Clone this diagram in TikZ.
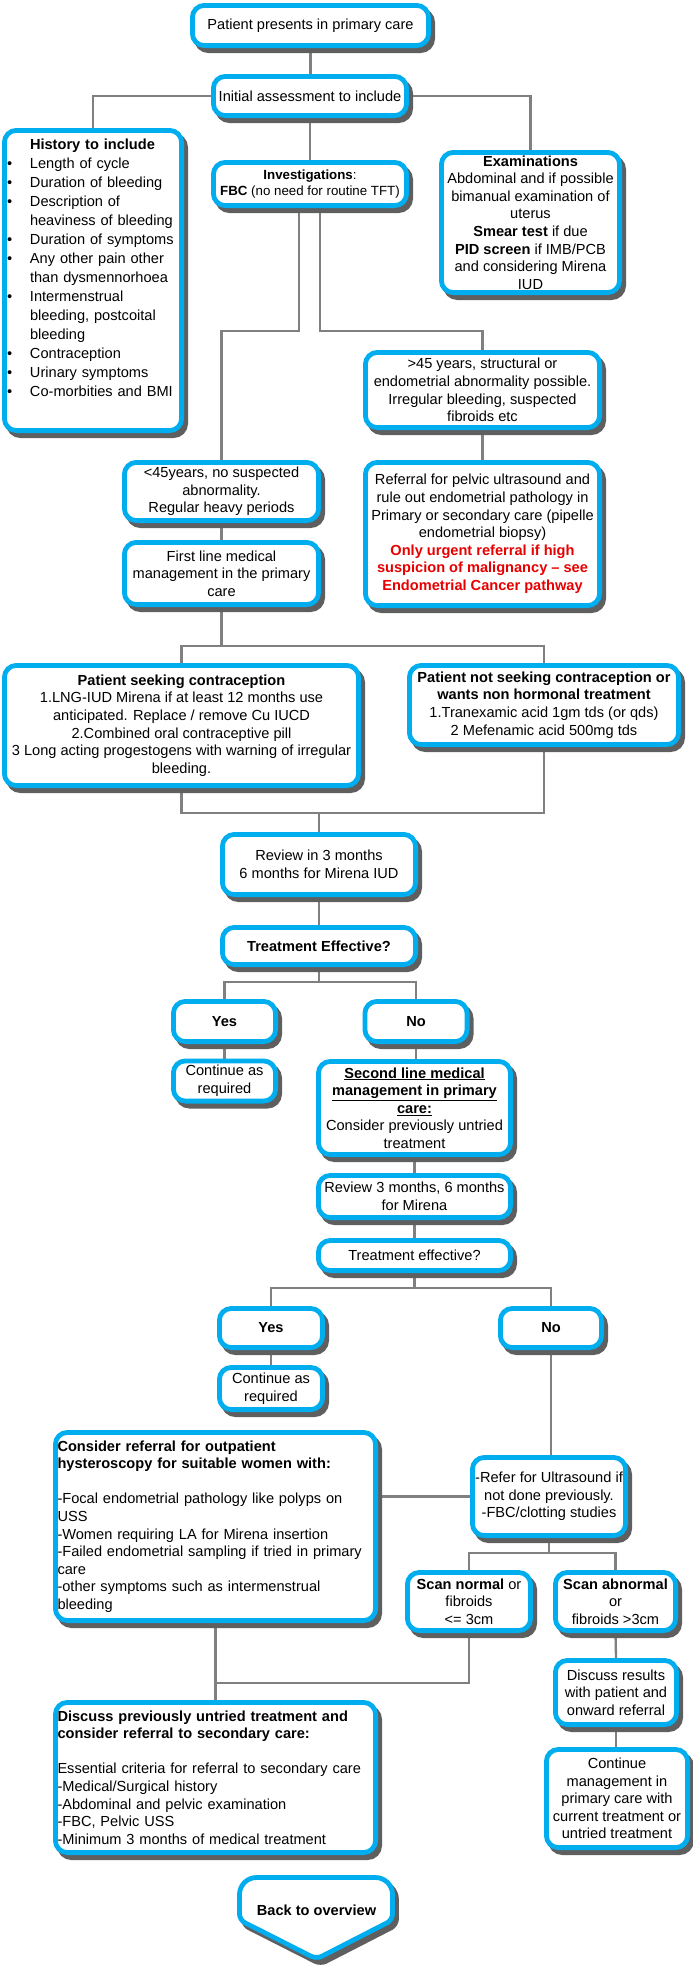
\documentclass[tikz,border=0pt]{standalone}
\usepackage{fontspec}
\setmainfont{Liberation Sans}
\usetikzlibrary{shadows,calc}
\definecolor{boxblue}{RGB}{0,174,239}
\definecolor{conngray}{RGB}{128,128,128}
\definecolor{shadegray}{RGB}{95,95,95}
\definecolor{alertred}{RGB}{232,0,0}
\newcommand{\fsmain}{\fontsize{14.6pt}{17.6pt}\selectfont}
\newcommand{\fssmall}{\fontsize{13.3pt}{16pt}\selectfont}
\newcommand{\fshist}{\fontsize{14.6pt}{19pt}\selectfont}
\newcommand{\bul}{\makebox[23pt][l]{\textbullet}}
\newcommand{\ind}{\hspace*{23pt}}
\newcommand{\rd}[1]{\textcolor{alertred}{\textbf{#1}}}
\pgfdeclarelayer{bg}
\pgfsetlayers{bg,main}
\tikzset{
  shadowspec/.style={drop shadow={shadow xshift=4pt, shadow yshift=-5pt, fill=shadegray, draw=shadegray, line width=4.8pt, opacity=1}},
  box/.style={draw=boxblue, line width=4.8pt, fill=white, rounded corners=12pt,
    inner sep=0pt, align=center, font=\fsmain, shadowspec},
  bx/.style 2 args={minimum width=#1pt-4.8pt, minimum height=#2pt-4.8pt},
  conn/.style={draw=conngray, line width=2.3pt},
}
\begin{document}
\begin{tikzpicture}[x=1pt,y=-1pt]
\useasboundingbox (0,0) rectangle (693,1971);

\node[box,bx={241}{45}] (P) at (310.5,25.5) {Patient presents in primary care};
\node[box,bx={198}{44}] (I) at (310,96) {Initial assessment to include};
\node[box,bx={182}{305},align=left,font=\fshist,text width=172pt] (H) at (93,280.5)
 {\ind\textbf{History to include}\\
  \bul Length of cycle\\
  \bul Duration of bleeding\\
  \bul Description of\\
  \ind heaviness of bleeding\\
  \bul Duration of symptoms\\
  \bul Any other pain other\\
  \ind than dysmennorhoea\\
  \bul Intermenstrual\\
  \ind bleeding, postcoital\\
  \ind bleeding\\
  \bul Contraception\\
  \bul Urinary symptoms\\
  \bul Co-morbities and BMI\\
  \strut};
\node[box,bx={198}{48},font=\fssmall] (Inv) at (310,184)
 {\textbf{Investigations}:\\\textbf{FBC} (no need for routine TFT)};
\node[box,bx={183}{145}] (Ex) at (530.5,222.5)
 {\textbf{Examinations}\\Abdominal and if possible\\bimanual examination of\\uterus\\\textbf{Smear test} if due\\\textbf{PID screen} if IMB/PCB\\and considering Mirena\\IUD};
\node[box,bx={239}{80}] (Old) at (482.5,390)
 {>45 years, structural or\\endometrial abnormality possible.\\Irregular bleeding, suspected\\fibroids etc};
\node[box,bx={239}{148}] (Ref) at (482.5,534)
 {Referral for pelvic ultrasound and\\rule out endometrial pathology in\\Primary or secondary care (pipelle\\endometrial biopsy)\\\rd{Only urgent referral if high}\\\rd{suspicion of malignancy – see}\\\rd{Endometrial Cancer pathway}};
\node[box,bx={199}{63}] (Young) at (221.5,491.5)
 {<45years, no suspected\\abnormality.\\Regular heavy periods};
\node[box,bx={199}{67}] (First) at (221.5,573.5)
 {First line medical\\management in the primary\\care};
\node[box,bx={359}{125}] (Contra) at (181.5,725.5)
 {\textbf{Patient seeking contraception}\\1.LNG-IUD Mirena if at least 12 months use\\anticipated. Replace / remove Cu IUCD\\2.Combined oral contraceptive pill\\3 Long acting progestogens with warning of irregular\\bleeding.};
\node[box,bx={274}{84}] (NotC) at (544,705)
 {\textbf{Patient not seeking contraception or}\\\textbf{wants non hormonal treatment}\\1.Tranexamic acid 1gm tds (or qds)\\2 Mefenamic acid 500mg tds};
\node[box,bx={198}{65}] (Rev) at (319,864.5) {Review in 3 months\\6 months for Mirena IUD};
\node[box,bx={198}{42}] (TE) at (319,946) {\textbf{Treatment Effective?}};
\node[box,bx={107}{45}] (Yes) at (224.5,1021.5) {\textbf{Yes}};
\node[box,bx={107}{45}] (No) at (416,1021.5) {\textbf{No}};
\node[box,bx={107}{45}] (Cont) at (224.5,1081) {Continue as\\required};
\node[box,bx={197}{98}] (Second) at (414.5,1108)
 {\underline{\textbf{Second line medical}}\\\underline{\textbf{management in primary}}\\\underline{\textbf{care:}}\\Consider previously untried\\treatment};
\node[box,bx={197}{47}] (Rev2) at (414.5,1196.5) {Review 3 months, 6 months\\for Mirena};
\node[box,bx={197}{35}] (TE2) at (414.5,1255.5) {Treatment effective?};
\node[box,bx={108}{44}] (Yes2) at (271,1328) {\textbf{Yes}};
\node[box,bx={106}{44}] (No2) at (551,1328) {\textbf{No}};
\node[box,bx={108}{47}] (Cont2) at (271,1388.5) {Continue as\\required};
\node[box,bx={158}{83}] (Refer) at (549,1496.5)
 {-Refer for Ultrasound if\\not done previously.\\-FBC/clotting studies};
\node[box,bx={325}{193},align=left,text width=316pt] (Consider) at (215.5,1526.5)
 {\textbf{Consider referral for outpatient}\\\textbf{hysteroscopy for suitable women with:}\\[17.6pt]
  -Focal endometrial pathology like polyps on\\USS\\-Women requiring LA for Mirena insertion\\-Failed endometrial sampling if tried in primary\\care\\-other symptoms such as intermenstrual\\bleeding};
\node[box,bx={128}{63}] (ScanN) at (469,1601.5) {\textbf{Scan normal} or\\fibroids\\<= 3cm};
\node[box,bx={125}{63}] (ScanA) at (615.5,1601.5) {\textbf{Scan abnormal}\\or\\fibroids >3cm};
\node[box,bx={126}{69}] (Discuss) at (616,1692.5) {Discuss results\\with patient and\\onward referral};
\node[box,bx={146}{103}] (ContM) at (617,1798.5)
 {Continue\\management in\\primary care with\\current treatment or\\untried treatment};
\node[box,bx={325}{155},align=left,text width=316pt] (Untried) at (215.5,1777.5)
 {\textbf{Discuss previously untried treatment and}\\\textbf{consider referral to secondary care:}\\[17.6pt]
  Essential criteria for referral to secondary care\\-Medical/Surgical history\\-Abdominal and pelvic examination\\-FBC, Pelvic USS\\-Minimum 3 months of medical treatment};

% Back to overview arrow shape
\draw[draw=boxblue, line width=4.8pt, fill=white, shadowspec]
  (239.5,1920) [rounded corners=17pt]-- (239.5,1877.5) -- (392.5,1877.5)
  [rounded corners=6pt]-- (392.5,1920) -- (316.5,1959) -- cycle;
\node[font=\fsmain\bfseries] (Back) at (316.5,1910) {Back to overview};

\begin{pgfonlayer}{bg}
\draw[conn] (P.south) -- (P.south |- I.north);
\draw[conn] (I.west) -| (H.north);
\draw[conn] (I.east) -| (Ex.north);
\draw[conn] (I.south) -- (Inv.north);
\draw[conn] ([xshift=-11pt]Inv.south) -- ++(0,123) -| (Young.north);
\draw[conn] ([xshift=10pt]Inv.south) -- ++(0,123) -| (Old.north);
\draw[conn] (Old.south) -- (Ref.north);
\draw[conn] (Young.south) -- (Young.south |- First.north);
\draw[conn] (First.south) -- ++(0,39) coordinate (b1);
\draw[conn] (Contra.north) |- (b1) -| (NotC.north);
\draw[conn] (Contra.south) -- ++(0,25) coordinate (b2) -| (NotC.south);
\draw[conn] (Rev.north) -- (Rev.north |- b2);
\draw[conn] (Rev.south) -- (TE.north);
\draw[conn] (TE.south) -- ++(0,15) coordinate (b3);
\draw[conn] (Yes.north) |- (b3) -| (No.north);
\draw[conn] (Yes.south) -- (Cont.north);
\draw[conn] (No.south) -- (No.south |- Second.north);
\draw[conn] (Second.south) -- (Rev2.north);
\draw[conn] (Rev2.south) -- (TE2.north);
\draw[conn] (TE2.south) -- ++(0,15) coordinate (b4);
\draw[conn] (Yes2.north) |- (b4) -| (No2.north);
\draw[conn] (Yes2.south) -- (Cont2.north);
\draw[conn] (No2.south) -- (No2.south |- Refer.north);
\draw[conn] (Refer.west) -- (Refer.west -| Consider.east);
\draw[conn] (Refer.south) -- ++(0,15) coordinate (b5);
\draw[conn] (ScanN.north) |- (b5) -| (ScanA.north);
\draw[conn] (Consider.south) -- (Untried.north);
\draw[conn] (ScanN.south) -- ++(0,50) coordinate (b6) -- (b6 -| Consider.south);
\draw[conn] (ScanA.south) -- (Discuss.north);
\draw[conn] (Discuss.south) -- (Discuss.south |- ContM.north);
\end{pgfonlayer}
\end{tikzpicture}
\end{document}
